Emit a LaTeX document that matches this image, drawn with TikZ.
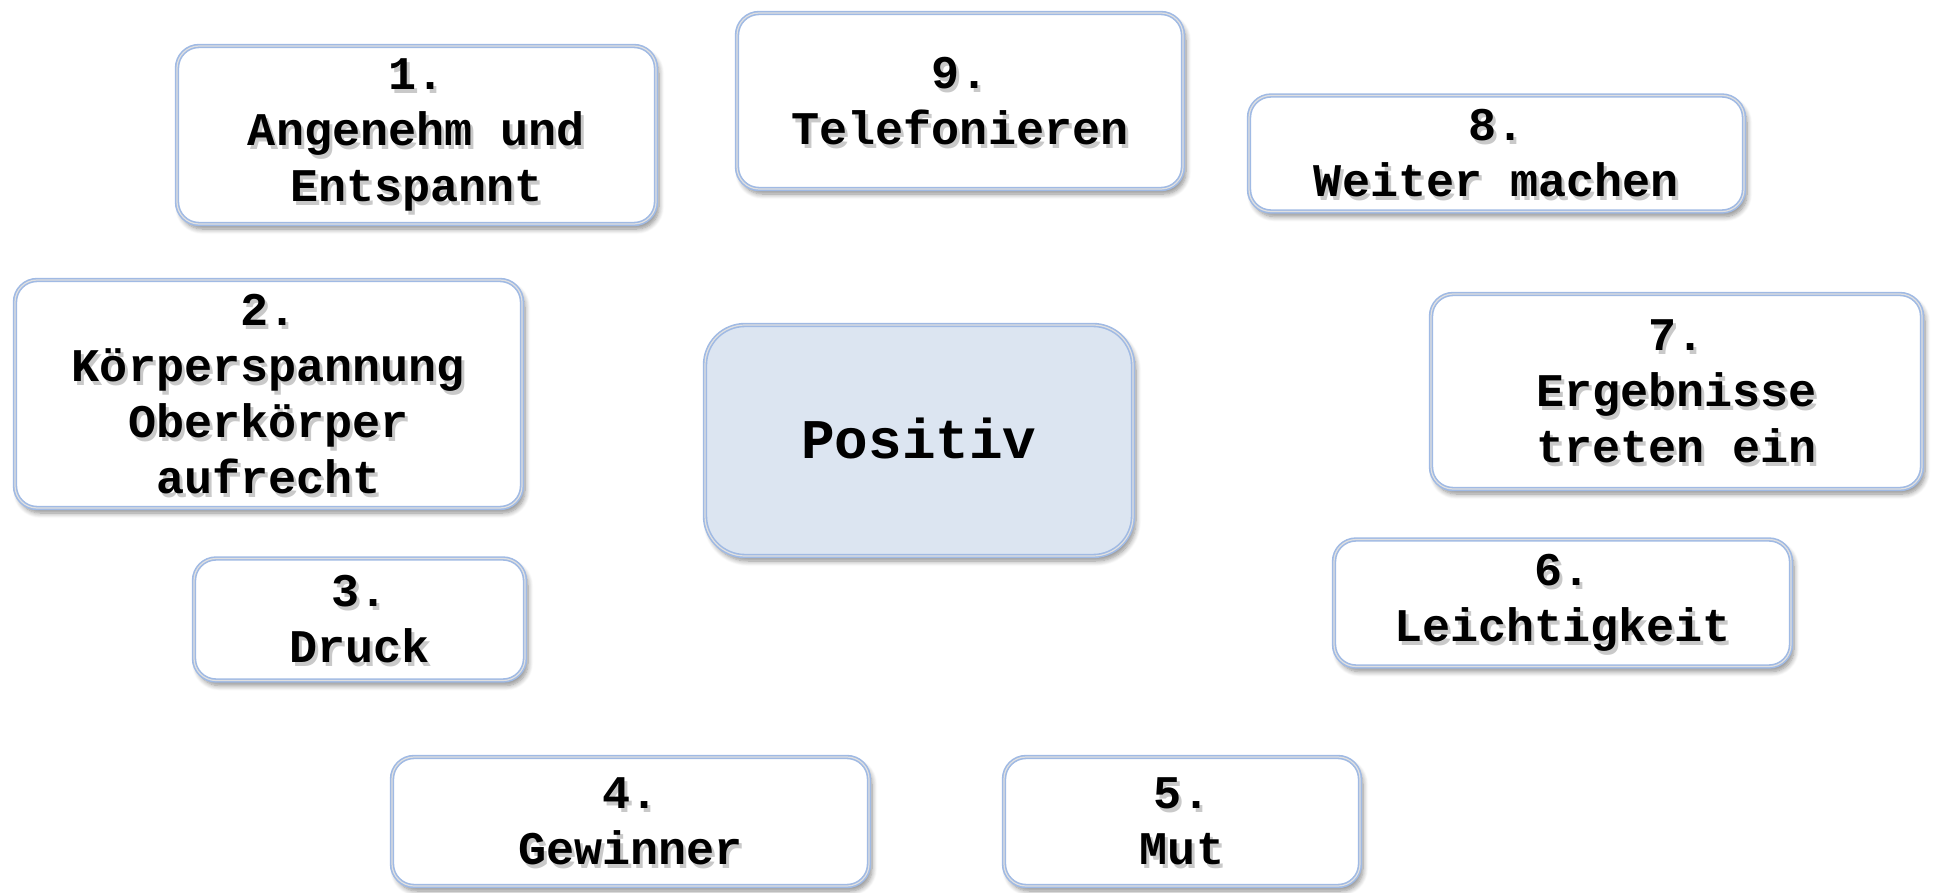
\documentclass[tikz,border=0pt]{standalone}
\usepackage{fontspec}
\newfontfamily\cardfont{Liberation Mono}
\usetikzlibrary{shadows.blur}
\definecolor{cardblue}{RGB}{160,186,228}
\definecolor{cardfill}{RGB}{220,229,241}
\definecolor{txtgray}{RGB}{120,120,120}
\tikzset{
  card/.style={draw=cardblue,line width=2.2pt,fill=white,rounded corners=11pt,inner sep=0pt,
    blur shadow={shadow blur steps=8,shadow xshift=1.5pt,shadow yshift=-2.5pt,shadow blur radius=2.5pt,shadow opacity=45},
    postaction={draw=black!12,line width=0.6pt,rounded corners=10pt}},
  centercard/.style={card,fill=cardfill,rounded corners=20pt},
  cardtxt/.style={align=center,font=\cardfont\bfseries\fontsize{23.4pt}{28pt}\selectfont,inner sep=0pt},
  txtshadow/.style={cardtxt,text=txtgray,opacity=0.4},
  bigtxt/.style={cardtxt,font=\cardfont\bfseries\fontsize{28pt}{32pt}\selectfont}
}
\begin{document}
\begin{tikzpicture}[x=0.5pt,y=-0.5pt]
\useasboundingbox (0,0) rectangle (1944,893);
% boxes
\node[card,minimum width=239.5pt,minimum height=89pt] (b1) at (416.5,135) {};
\node[card,minimum width=253.5pt,minimum height=114pt] (b2) at (268.5,394) {};
\node[card,minimum width=165.5pt,minimum height=61pt] (b3) at (359.5,619.5) {};
\node[card,minimum width=238.5pt,minimum height=64.5pt] (b4) at (630.5,821.5) {};
\node[card,minimum width=178pt,minimum height=64.5pt] (b5) at (1182,821.5) {};
\node[card,minimum width=228.5pt,minimum height=63.5pt] (b6) at (1562.5,603) {};
\node[card,minimum width=245.5pt,minimum height=97.5pt] (b7) at (1676.5,391.5) {};
\node[card,minimum width=247.5pt,minimum height=58pt] (b8) at (1496.5,153.5) {};
\node[card,minimum width=223pt,minimum height=88pt] (b9) at (960,101) {};
\node[centercard,minimum width=214pt,minimum height=115.5pt] (bp) at (919,440.5) {};
% text shadows
\node[txtshadow] (s1) at ([shift={(3,4)}]b1.center) {1.\\Angenehm und\\Entspannt};
\node[txtshadow] (s2) at ([shift={(3,4)}]b2.center) {2.\\Körperspannung\\Oberkörper\\aufrecht};
\node[txtshadow] (s3) at ([shift={(3,4)}]b3.center) {3.\\Druck};
\node[txtshadow] (s4) at ([shift={(3,4)}]b4.center) {4.\\Gewinner};
\node[txtshadow] (s5) at ([shift={(3,4)}]b5.center) {5.\\Mut};
\node[txtshadow] (s6) at ([shift={(3,4)}]b6.center) {6.\\Leichtigkeit};
\node[txtshadow] (s7) at ([shift={(3,4)}]b7.center) {7.\\Ergebnisse\\treten ein};
\node[txtshadow] (s8) at ([shift={(3,4)}]b8.center) {8.\\Weiter machen};
\node[txtshadow] (s9) at ([shift={(3,4)}]b9.center) {9.\\Telefonieren};
% texts
\node[cardtxt] (t1) at (b1.center) {1.\\Angenehm und\\Entspannt};
\node[cardtxt] (t2) at (b2.center) {2.\\Körperspannung\\Oberkörper\\aufrecht};
\node[cardtxt] (t3) at (b3.center) {3.\\Druck};
\node[cardtxt] (t4) at (b4.center) {4.\\Gewinner};
\node[cardtxt] (t5) at (b5.center) {5.\\Mut};
\node[cardtxt] (t6) at (b6.center) {6.\\Leichtigkeit};
\node[cardtxt] (t7) at (b7.center) {7.\\Ergebnisse\\treten ein};
\node[cardtxt] (t8) at (b8.center) {8.\\Weiter machen};
\node[cardtxt] (t9) at (b9.center) {9.\\Telefonieren};
\node[bigtxt] (tp) at ([shift={(0,-2)}]bp.center) {Positiv};
\end{tikzpicture}
\end{document}
